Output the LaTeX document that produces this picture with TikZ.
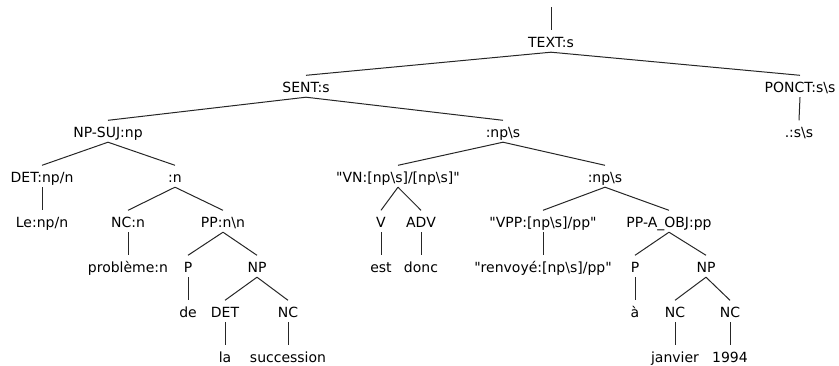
\documentclass[tikz,border=0pt]{standalone}
\usepackage{fontspec}
\setmainfont{DejaVu Sans}[Ligatures=TeXOff]
\newcommand{\bksl}{\textbackslash}
\tikzset{
  cat/.style={anchor=base, font=\fontsize{14}{16}\selectfont, text height=11.5pt, text depth=0pt, inner xsep=0pt, inner ysep=5pt},
  branch/.style={line width=1pt, black!85}
}
\begin{document}
\begin{tikzpicture}[x=1pt,y=-1pt]
\useasboundingbox (0,0) rectangle (839,365);
% stub above the root
\coordinate (top) at (551,7);
\node[cat] (text) at (551,47) {TEXT:s};
% one row of categories per depth
\foreach \n/\x/\lab in {sent/306/{SENT:s}, ponct/800/{PONCT:s\bksl s}} {
  \node[cat] (\n) at (\x,92) {\lab};
}
\foreach \n/\x/\lab in {npsuj/108/{NP-SUJ:np}, vp/503/{:np\bksl s}, pct/799/{.:s\bksl s}} {
  \node[cat] (\n) at (\x,137) {\lab};
}
\foreach \n/\x/\lab in {det/42/{DET:np/n}, nbar/175/{:n}, vn/398/{"VN:[np\bksl s]/[np\bksl s]"}, vp2/605/{:np\bksl s}} {
  \node[cat] (\n) at (\x,182) {\lab};
}
\foreach \n/\x/\lab in {le/42/{Le:np/n}, nc/128/{NC:n}, pp/223/{PP:n\bksl n}, v/381/{V}, adv/421/{ADV}, vpp/543/{"VPP:[np\bksl s]/pp"}, ppobj/669/{PP-A\_OBJ:pp}} {
  \node[cat] (\n) at (\x,227) {\lab};
}
\foreach \n/\x/\lab in {probleme/128/{problème:n}, p1/188/{P}, np1/257/{NP}, est/381/{est}, donc/421/{donc}, renvoye/543/{"renvoyé:[np\bksl s]/pp"}, p2/635/{P}, np2/706/{NP}} {
  \node[cat] (\n) at (\x,272) {\lab};
}
\foreach \n/\x/\lab in {de/188/{de}, det2/225/{DET}, nc2/288/{NC}, a/635/{à}, nc3/675/{NC}, nc4/730/{NC}} {
  \node[cat] (\n) at (\x,317) {\lab};
}
\foreach \n/\x/\lab in {la/225/{la}, succession/288/{succession}, janvier/675/{janvier}, year/730/{1994}} {
  \node[cat] (\n) at (\x,362) {\lab};
}
% branches
\draw[branch] (top) -- (text.north);
\foreach \a/\b in {text/sent, text/ponct, sent/npsuj, sent/vp, ponct/pct,
  npsuj/det, npsuj/nbar, vp/vn, vp/vp2, det/le, nbar/nc, nbar/pp, vn/v, vn/adv,
  vp2/vpp, vp2/ppobj, nc/probleme, pp/p1, pp/np1, v/est, adv/donc, vpp/renvoye,
  ppobj/p2, ppobj/np2, p1/de, np1/det2, np1/nc2, p2/a, np2/nc3, np2/nc4,
  det2/la, nc2/succession, nc3/janvier, nc4/year} {
  \draw[branch] (\a.south) -- (\b.north);
}
\end{tikzpicture}
\end{document}
